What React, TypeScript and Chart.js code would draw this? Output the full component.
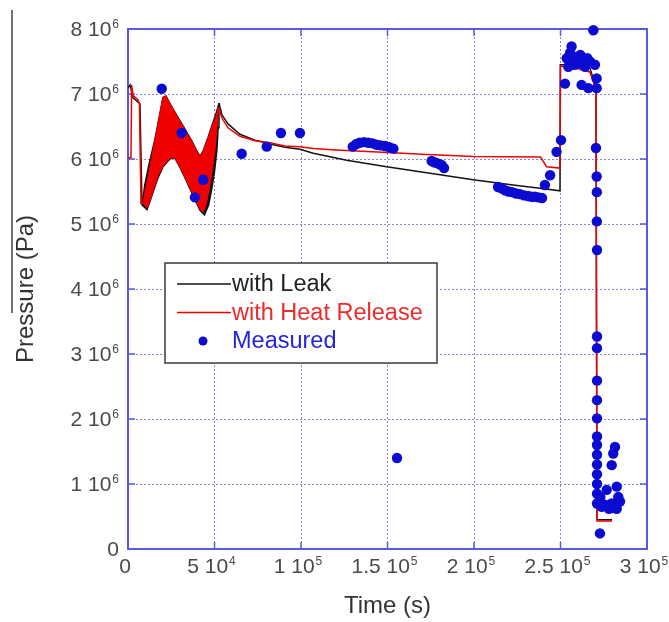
import React, { useEffect, useRef } from "react";
import { Chart, registerables } from "chart.js";

Chart.register(...registerables);

// ---------- axis ticks ----------
const xTickValues = [0, 50000, 100000, 150000, 200000, 250000, 300000];
const xTickLabels = ["0", "5 10^4", "1 10^5", "1.5 10^5", "2 10^5", "2.5 10^5", "3 10^5"];
const yTickValues = [0, 1e6, 2e6, 3e6, 4e6, 5e6, 6e6, 7e6, 8e6];
const yTickLabels = ["0", "1 10^6", "2 10^6", "3 10^6", "4 10^6", "5 10^6", "6 10^6", "7 10^6", "8 10^6"];

// ---------- series (time in 10^3 s, pressure in 10^6 Pa) ----------
// "with Leak" (black)
const leakStartTime = [0, 1.2, 2.9, 6.9, 8.1];
const leakStartPressure = [7.09, 7.14, 6.94, 6.85, 5.29];
const leakBandHiTime = [8.1, 9.7, 12.0, 15.61, 18.5, 20.23, 21.97, 24.28, 28.9, 32.95, 37.0, 39.3, 41.6, 43.35, 46.24, 49.1, 50.9, 52.6];
const leakBandHiPressure = [5.29, 5.60, 5.90, 6.31, 6.71, 6.95, 6.97, 6.85, 6.64, 6.46, 6.27, 6.15, 6.04, 6.12, 6.33, 6.56, 6.70, 6.86];
const leakBandLoTime = [8.1, 9.83, 10.98, 12.72, 15.03, 17.34, 20.23, 23.12, 25.43, 27.17, 30.06, 32.95, 35.84, 38.73, 41.62, 44.2, 46.6, 48.3, 50.0, 51.4, 52.1, 52.6];
const leakBandLoPressure = [5.29, 5.25, 5.22, 5.35, 5.53, 5.71, 5.88, 5.97, 6.02, 6.01, 5.87, 5.71, 5.54, 5.37, 5.21, 5.14, 5.29, 5.52, 5.80, 6.14, 6.48, 6.86];
const leakEndTime = [52.6, 54.3, 57.8, 64.7, 73.4, 82.1, 90.7, 99.4, 107.1, 126.4, 149.5, 174.6, 199.5, 222.6, 238.1, 249.7, 249.9, 258.0, 267.0, 270.5, 271.1, 279.8];
const leakEndPressure = [6.86, 6.68, 6.54, 6.38, 6.29, 6.23, 6.18, 6.15, 6.09, 5.98, 5.88, 5.78, 5.68, 5.60, 5.55, 5.51, 7.45, 7.45, 7.40, 7.10, 0.45, 0.45];

// "with Heat Release" (red)
const heatStartTime = [0, 1.7, 2.1, 2.9, 5.8, 6.6, 7.5, 8.67];
const heatStartPressure = [6.02, 6.02, 7.14, 6.98, 6.91, 6.85, 5.32, 5.32];
const heatBandHiTime = [8.67, 10.4, 12.72, 15.61, 18.5, 20.23, 21.97, 24.28, 28.9, 32.95, 37.0, 39.3, 41.6, 43.35, 46.24, 49.13, 50.86, 52.3];
const heatBandHiPressure = [5.32, 5.57, 5.89, 6.31, 6.71, 6.95, 6.97, 6.85, 6.63, 6.45, 6.26, 6.14, 6.03, 6.11, 6.32, 6.54, 6.65, 6.80];
const heatBandLoTime = [8.67, 9.83, 10.98, 12.72, 15.03, 17.34, 20.23, 23.12, 25.43, 27.17, 30.06, 32.95, 35.84, 38.73, 41.62, 43.35, 45.08, 46.82, 48.55, 50.29, 51.44, 52.3];
const heatBandLoPressure = [5.32, 5.28, 5.25, 5.37, 5.55, 5.74, 5.89, 5.98, 6.03, 6.02, 5.88, 5.72, 5.55, 5.38, 5.23, 5.18, 5.29, 5.52, 5.80, 6.14, 6.48, 6.80];
const heatEndTime = [52.3, 54.3, 57.8, 64.7, 73.4, 82.1, 90.7, 99.4, 107.1, 120.2, 150.0, 173.0, 200.0, 238.5, 242.0, 249.7, 250.0, 258.4, 267.0, 270.5, 271.1, 279.8];
const heatEndPressure = [6.80, 6.63, 6.48, 6.35, 6.28, 6.25, 6.20, 6.19, 6.16, 6.14, 6.10, 6.07, 6.04, 6.03, 5.88, 5.86, 7.43, 7.40, 7.34, 7.06, 0.43, 0.43];

// "Measured" (blue dots)
const measuredTime = [
  19.5, 31.0, 38.7, 43.5, 65.7, 80.2, 88.4, 99.4,
  129.9, 132.0, 134.0, 136.5, 138.9, 141.3, 143.7, 146.0, 148.5, 151.0, 153.4,
  155.5,
  175.5, 177.0, 178.4, 180.0, 181.3, 182.7,
  213.9, 215.9, 217.9, 220.0, 222.0, 224.3, 226.6, 228.9, 231.2, 233.2, 235.2, 237.2, 239.3,
  241.0, 244.0, 247.7, 250.3,
  252.6, 253.6, 254.5, 255.5, 256.4, 258.4, 260.3, 262.2, 263.2, 264.2, 266.1, 267.0, 269.0, 269.9, 270.9, 270.9,
  258.0, 261.5, 265.5,
  270.5, 270.9, 271.0, 271.0, 271.1, 271.1, 271.1, 271.1, 271.1, 271.1, 271.1,
  271.1, 271.1, 271.1, 271.1, 271.1, 271.1, 271.1,
  281.5, 280.5, 279.6, 282.5, 276.7, 283.4, 279.6, 284.4, 275.7, 280.5, 273.8, 272.8,
  273.0, 278.0, 282.5,
];
const measuredPressure = [
  7.08, 6.40, 5.41, 5.68, 6.08, 6.19, 6.40, 6.40,
  6.19, 6.23, 6.25, 6.26, 6.25, 6.24, 6.22, 6.21, 6.20, 6.18, 6.16,
  1.40,
  5.97, 5.95, 5.94, 5.92, 5.91, 5.86,
  5.57, 5.55, 5.52, 5.50, 5.49, 5.47, 5.46, 5.44, 5.43, 5.42, 5.42, 5.41, 5.40,
  5.60, 5.75, 6.11, 6.29,
  7.16, 7.55, 7.42, 7.63, 7.73, 7.57, 7.47, 7.14, 7.55, 7.42, 7.09, 7.50, 7.98, 7.45, 7.24, 7.09,
  7.45, 7.60, 7.55,
  6.17, 5.73, 5.49, 5.04, 4.60, 3.27, 3.09, 2.59, 2.29, 2.01, 1.73,
  1.60, 1.45, 1.30, 1.15, 1.00, 0.85, 0.70,
  1.57, 1.47, 1.29, 0.96, 0.91, 0.80, 0.70, 0.73, 0.68, 0.63, 0.65, 0.24,
  0.80, 0.62, 0.62,
];

const legendLabels = ["with Leak", "with Heat Release", "Measured"];

// ---------- styling ----------
const BLACK = "#141414";
const RED = "#f00000";
const BLUE = "#0b0bd2";
const FRAME = "#5a5ade";
const GRID = "#8686e4";
const TEXT = "#4a4a4a";
const FONT = '"Liberation Sans", Arial, sans-serif';

function pts(t: number[], p: number[]) {
  return t.map((v, i) => ({ x: v * 1e3, y: p[i] * 1e6 }));
}

function drawSup(ctx: CanvasRenderingContext2D, label: string, x: number, y: number, align: "right" | "center") {
  const [base, exp] = label.split("^");
  const baseFont = `21px ${FONT}`;
  const supFont = `12px ${FONT}`;
  ctx.font = baseFont;
  const wb = ctx.measureText(base).width;
  ctx.font = supFont;
  const we = exp ? ctx.measureText(exp).width + 1 : 0;
  const total = wb + we;
  const x0 = align === "right" ? x - total : x - total / 2;
  ctx.textAlign = "left";
  ctx.textBaseline = "alphabetic";
  ctx.fillStyle = TEXT;
  ctx.font = baseFont;
  ctx.fillText(base, x0, y);
  if (exp) {
    ctx.font = supFont;
    ctx.fillText(exp, x0 + wb + 1, y - 8);
  }
}

const decorPlugin = {
  id: "decor",
  beforeDatasetsDraw(chart: any) {
    const { ctx, chartArea } = chart;
    const { left, right, top, bottom } = chartArea;
    const xs = chart.scales.x;
    const ys = chart.scales.y;
    ctx.save();
    ctx.strokeStyle = FRAME;
    ctx.lineWidth = 2;
    ctx.strokeRect(left, top, right - left, bottom - top);
    ctx.lineWidth = 1.5;
    ctx.beginPath();
    xTickValues.forEach((v) => {
      const px = xs.getPixelForValue(v);
      ctx.moveTo(px, bottom);
      ctx.lineTo(px, bottom - 7);
      ctx.moveTo(px, top);
      ctx.lineTo(px, top + 7);
    });
    yTickValues.forEach((v) => {
      const py = ys.getPixelForValue(v);
      ctx.moveTo(left, py);
      ctx.lineTo(left + 7, py);
      ctx.moveTo(right, py);
      ctx.lineTo(right - 7, py);
    });
    ctx.stroke();
    ctx.restore();
  },
  afterDraw(chart: any) {
    const { ctx, chartArea } = chart;
    const { left, right, bottom } = chartArea;
    const xs = chart.scales.x;
    const ys = chart.scales.y;
    ctx.save();
    // tick labels
    xTickValues.forEach((v, i) => {
      drawSup(ctx, xTickLabels[i], xs.getPixelForValue(v) - 3, bottom + 24, "center");
    });
    yTickValues.forEach((v, i) => {
      drawSup(ctx, yTickLabels[i], left - 9, ys.getPixelForValue(v) + 7, "right");
    });
    // axis titles
    ctx.fillStyle = "#333";
    ctx.font = `24px ${FONT}`;
    ctx.textAlign = "center";
    ctx.textBaseline = "middle";
    ctx.fillText("Time (s)", (left + right) / 2, 606);
    ctx.save();
    ctx.translate(26, 289);
    ctx.rotate(-Math.PI / 2);
    ctx.fillText("Pressure (Pa)", 0, 0);
    ctx.restore();
    // overline next to y title
    ctx.strokeStyle = "#444";
    ctx.lineWidth = 1.5;
    ctx.beginPath();
    ctx.moveTo(12, 10);
    ctx.lineTo(12, 313);
    ctx.stroke();

    // legend
    const bx = 165, by = 263, bw = 272, bh = 100;
    ctx.fillStyle = "#fff";
    ctx.fillRect(bx, by, bw, bh);
    ctx.strokeStyle = "#3a3a3a";
    ctx.lineWidth = 1.5;
    ctx.strokeRect(bx, by, bw, bh);
    const rows = [284, 312.5, 341];
    const colors = [BLACK, RED, BLUE];
    const textColors = ["#222", "#ee2a2a", "#2424dc"];
    ctx.font = `23.5px ${FONT}`;
    ctx.textAlign = "left";
    ctx.textBaseline = "middle";
    rows.forEach((ry, i) => {
      if (i < 2) {
        ctx.strokeStyle = colors[i];
        ctx.lineWidth = 1.5;
        ctx.beginPath();
        ctx.moveTo(177, ry);
        ctx.lineTo(231, ry);
        ctx.stroke();
      } else {
        ctx.fillStyle = colors[i];
        ctx.beginPath();
        ctx.arc(203, ry, 4.5, 0, Math.PI * 2);
        ctx.fill();
      }
      ctx.fillStyle = textColors[i];
      ctx.fillText(legendLabels[i], 232, ry + 1);
    });
    ctx.restore();
  },
};

export default function App() {
  const canvasRef = useRef<HTMLCanvasElement | null>(null);

  useEffect(() => {
    const canvas = canvasRef.current;
    if (!canvas) return;
    const lineDs = (data: any[], color: string, order: number) => ({
      data,
      borderColor: color,
      backgroundColor: color,
      borderWidth: 1.5,
      pointRadius: 0,
      fill: false,
      tension: 0,
      order,
    });
    const datasets: any[] = [
      // 0,1: leak band (lo, hi filled to lo)
      lineDs(pts(leakBandLoTime, leakBandLoPressure), BLACK, 6),
      { ...lineDs(pts(leakBandHiTime, leakBandHiPressure), BLACK, 5), fill: { target: 0 }, backgroundColor: BLACK },
      // 2,3: leak lines
      lineDs(pts(leakStartTime, leakStartPressure), BLACK, 4),
      lineDs(pts(leakEndTime, leakEndPressure), BLACK, 4),
      // 4,5: heat band
      { ...lineDs(pts(heatBandLoTime, heatBandLoPressure), RED, 3), borderWidth: 1 },
      { ...lineDs(pts(heatBandHiTime, heatBandHiPressure), RED, 2), borderWidth: 1, fill: { target: 4 }, backgroundColor: RED },
      // 6,7: heat lines
      lineDs(pts(heatStartTime, heatStartPressure), RED, 1),
      lineDs(pts(heatEndTime, heatEndPressure), RED, 1),
      // 8: measured
      {
        data: pts(measuredTime, measuredPressure),
        showLine: false,
        pointRadius: 5.2,
        pointBackgroundColor: BLUE,
        pointBorderColor: BLUE,
        pointBorderWidth: 0,
        borderColor: BLUE,
        backgroundColor: BLUE,
        clip: false,
        order: 0,
      },
    ];

    const chart = new Chart(canvas, {
      type: "line",
      data: { datasets },
      options: {
        animation: false,
        responsive: false,
        maintainAspectRatio: false,
        layout: { padding: { left: 128, right: 22, top: 29, bottom: 73 } },
        plugins: {
          legend: { display: false },
          tooltip: { enabled: false },
        },
        scales: {
          x: {
            type: "linear",
            min: 0,
            max: 300000,
            afterFit: (s: any) => {
              s.height = 0;
            },
            ticks: { display: false, stepSize: 50000 },
            grid: { color: GRID, lineWidth: 1, drawTicks: false },
            border: { display: false, dash: [2, 2] },
          },
          y: {
            type: "linear",
            min: 0,
            max: 8e6,
            afterFit: (s: any) => {
              s.width = 0;
            },
            ticks: { display: false, stepSize: 1e6 },
            grid: { color: GRID, lineWidth: 1, drawTicks: false },
            border: { display: false, dash: [2, 2] },
          },
        },
      } as any,
      plugins: [decorPlugin],
    });
    return () => chart.destroy();
  }, []);

  return (
    <div style={{ position: "absolute", left: 0, top: 0, width: 669, height: 622, background: "#fff" }}>
      <canvas ref={canvasRef} width={669} height={622} style={{ display: "block" }} />
    </div>
  );
}
